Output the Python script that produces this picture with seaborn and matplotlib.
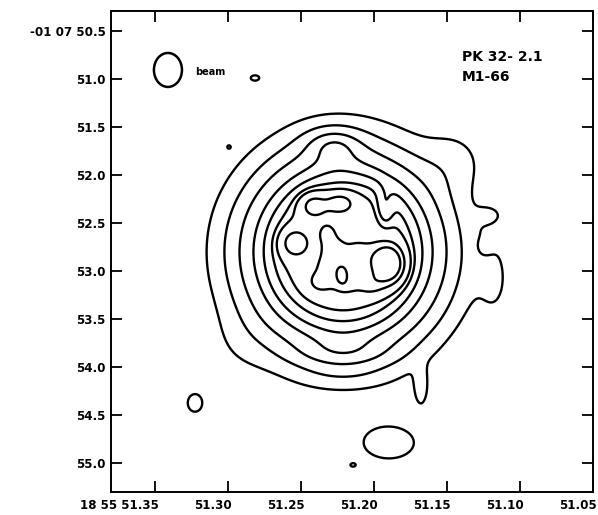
import numpy as np
import matplotlib
matplotlib.use("Agg")
import matplotlib.pyplot as plt
import seaborn as sns
from matplotlib.patches import Ellipse
from matplotlib.transforms import ScaledTranslation

# ---- axis ticks / labels (RA seconds, Dec arcsec) ----
ra_ticks = [51.35, 51.30, 51.25, 51.20, 51.15, 51.10, 51.05]
ra_labels = ["18 55 51.35", "51.30", "51.25", "51.20", "51.15", "51.10", "51.05"]
dec_ticks = [50.5, 51.0, 51.5, 52.0, 52.5, 53.0, 53.5, 54.0, 54.5, 55.0]
dec_labels = ["-01 07 50.5", "51.0", "51.5", "52.0", "52.5", "53.0", "53.5",
              "54.0", "54.5", "55.0"]

# ---- contour levels ----
contour_levels = [0.12, 0.27, 0.45, 0.61, 0.70, 0.76, 0.80, 0.89, 0.97]

# ---- nebular shell (plateau) ----
shell_ra, shell_dec = 51.2212, 52.802
shell_scale_ra, shell_scale_dec = 0.0685, 1.042
shell_radius, shell_edge, shell_peak = 1.055, 0.171, 0.85

# ---- emission components (RA, Dec, sigma RA, sigma Dec, amplitude) ----
comp_ra = [51.2418, 51.2233, 51.2548, 51.2322, 51.2281, 51.2315, 51.2370,
           51.2199, 51.2027, 51.2110, 51.1904, 51.2219, 51.1925, 51.2281,
           51.1445, 51.1206, 51.1171, 51.1240, 51.1678, 51.2918, 51.2815,
           51.2993, 51.3226, 51.1897, 51.2144, 51.2212, 51.2212]
comp_dec = [52.3125, 52.2917, 52.7083, 52.6042, 52.7813, 52.9479, 53.1146,
            53.1458, 53.1458, 52.8333, 52.9271, 53.0313, 52.3438, 51.6667,
            51.8438, 52.4167, 53.0938, 52.7500, 54.2188, 53.7708, 50.9896,
            51.7083, 54.3750, 54.7917, 55.0208, 53.8750, 54.0833]
comp_sig_ra = [0.00685, 0.00685, 0.00685, 0.00479, 0.00548, 0.00548, 0.00616,
               0.00685, 0.00685, 0.00822, 0.00753, 0.00274, 0.00411, 0.01370,
               0.01507, 0.00685, 0.00822, 0.00479, 0.00342, 0.01712, 0.00274,
               0.00103, 0.00479, 0.01644, 0.00205, 0.02397, 0.02055]
comp_sig_dec = [0.0938, 0.0729, 0.1042, 0.0833, 0.0833, 0.0833, 0.0833,
                0.0833, 0.0833, 0.1250, 0.1354, 0.0625, 0.1458, 0.1250,
                0.2292, 0.0729, 0.3125, 0.0729, 0.1458, 0.2604, 0.0260,
                0.0156, 0.0885, 0.1563, 0.0208, 0.1042, 0.0833]
comp_amp = [0.12, 0.12, 0.13, 0.07, 0.08, 0.08, 0.09,
            0.08, 0.08, 0.07, 0.32, 0.16, -0.08, 0.24,
            0.12, 0.10, 0.11, -0.05, 0.18, 0.06, 0.20,
            0.14, 0.20, 0.20, 0.14, 0.13, 0.05]

# ---- beam ----
beam_ra, beam_dec = 51.3411, 50.906
beam_width, beam_height = 0.0192, 0.354

# ---- axis limits ----
ra_lim = (51.3801, 51.0500)
dec_lim = (55.302, 50.292)

# ---- build the brightness map ----
ra = np.linspace(51.04, 51.39, 900)
dec = np.linspace(50.28, 55.31, 900)
RA, DEC = np.meshgrid(ra, dec)
r = np.sqrt(((RA - shell_ra) / shell_scale_ra) ** 2 + ((DEC - shell_dec) / shell_scale_dec) ** 2)
Z = shell_peak / (1.0 + np.exp((r - shell_radius) / shell_edge))
for cra, cdec, sra, sdec, amp in zip(comp_ra, comp_dec, comp_sig_ra, comp_sig_dec, comp_amp):
    Z += amp * np.exp(-0.5 * (((RA - cra) / sra) ** 2 + ((DEC - cdec) / sdec) ** 2))

# ---- figure ----
sns.set_theme(style="ticks")
plt.rcParams["font.family"] = ["DejaVu Sans"]
plt.rcParams["text.color"] = "black"
plt.rcParams["axes.linewidth"] = 1.4

fig = plt.figure(figsize=(5.98, 5.15), dpi=100)
fig.patch.set_facecolor("white")
ax = fig.add_axes([111 / 598, 1 - 492 / 515, 482 / 598, 481 / 515])
ax.set_facecolor("white")

ax.contour(RA, DEC, Z, levels=contour_levels, colors="black", linewidths=1.7)

ax.add_patch(Ellipse((beam_ra, beam_dec), beam_width, beam_height,
                     fill=False, edgecolor="black", linewidth=1.8))
ax.text(51.3226, 50.932, "beam", fontsize=7, fontweight="bold", color="black",
        ha="left", va="center")
ax.text(51.1397, 50.766, "PK 32- 2.1", fontsize=10, fontweight="bold", color="black",
        ha="left", va="center")
ax.text(51.1397, 50.984, "M1-66", fontsize=10, fontweight="bold", color="black",
        ha="left", va="center")

ax.set_xlim(*ra_lim)
ax.set_ylim(*dec_lim)
ax.set_xticks(ra_ticks)
ax.set_xticklabels(ra_labels, ha="right")
ax.set_yticks(dec_ticks)
ax.set_yticklabels(dec_labels)
ax.tick_params(direction="in", length=8, width=1.3, top=True, right=True,
               labelsize=8.6, colors="black")
ax.tick_params(axis="x", pad=5)
ax.tick_params(axis="y", pad=4)
for lab in ax.get_xticklabels() + ax.get_yticklabels():
    lab.set_fontweight("bold")
for lab in ax.get_xticklabels():
    lab.set_transform(lab.get_transform() + ScaledTranslation(4 / 100, 0, fig.dpi_scale_trans))
for sp in ax.spines.values():
    sp.set_color("black")
    sp.set_linewidth(1.4)
ax.set_xlabel("")
ax.set_ylabel("")

fig.savefig("out.png", dpi=100, facecolor="white")
